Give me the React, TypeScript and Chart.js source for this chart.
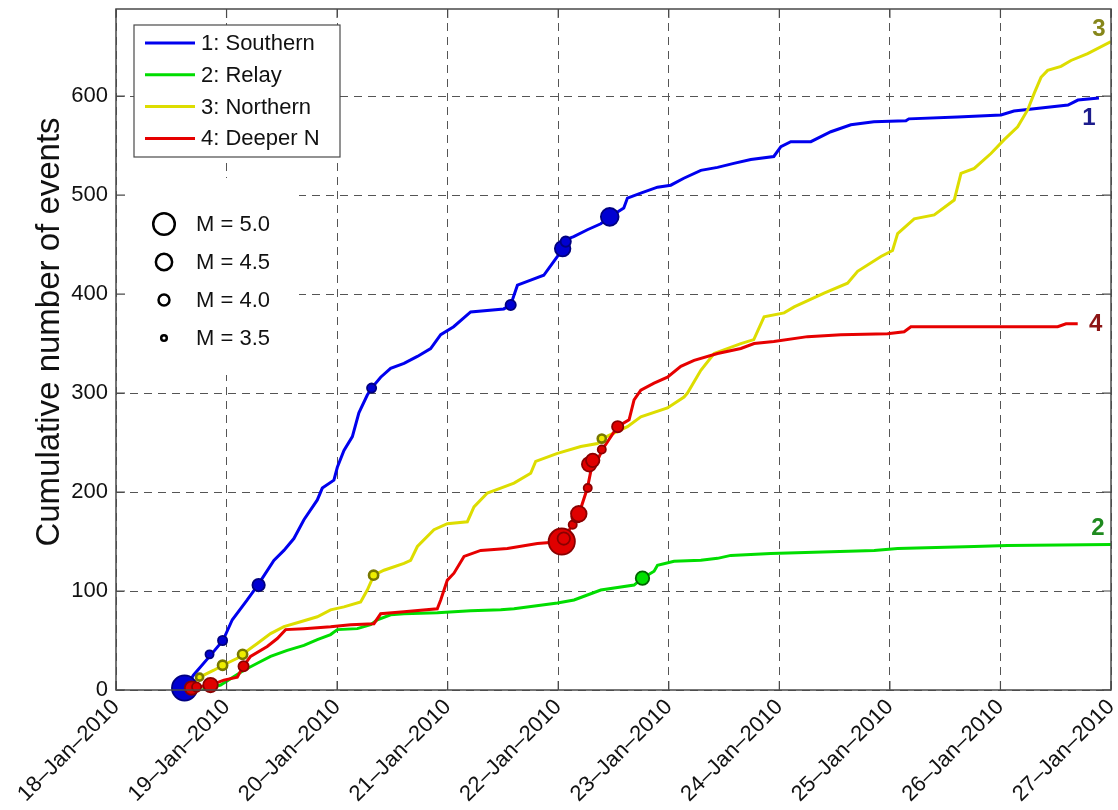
import React, { useEffect, useRef } from "react";
import { Chart, registerables } from "chart.js";

Chart.register(...registerables);

// ---------- data ----------
const xTickLabels = [
  "18–Jan–2010", "19–Jan–2010", "20–Jan–2010", "21–Jan–2010", "22–Jan–2010",
  "23–Jan–2010", "24–Jan–2010", "25–Jan–2010", "26–Jan–2010", "27–Jan–2010",
];
const yTickValues = [0, 100, 200, 300, 400, 500, 600];
const yAxisMax = 688;
const seriesNames = ["1: Southern", "2: Relay", "3: Northern", "4: Deeper N"];
const seriesTags = ["1", "2", "3", "4"];
const legendMagnitudes = [5.0, 4.5, 4.0, 3.5];

// [days since 18-Jan-2010 00:00, cumulative count]
const southern: [number, number][] = [
  [0.62, 0], [0.70, 15], [0.862, 36], [0.967, 50], [1.052, 71], [1.187, 91], [1.283, 106],
  [1.428, 131], [1.519, 141], [1.609, 153], [1.700, 172], [1.821, 192], [1.866, 204],
  [1.971, 212], [2.002, 225], [2.062, 242], [2.138, 256], [2.197, 280], [2.273, 298],
  [2.312, 305], [2.394, 316], [2.484, 325], [2.605, 330], [2.726, 337], [2.846, 345],
  [2.937, 359], [3.054, 367], [3.208, 382], [3.507, 385], [3.570, 389], [3.631, 409],
  [3.751, 414], [3.869, 419], [3.993, 438], [4.038, 446], [4.068, 455], [4.140, 458],
  [4.264, 465], [4.385, 471], [4.466, 478], [4.593, 487], [4.626, 497], [4.747, 502],
  [4.898, 508], [5.018, 510], [5.136, 517], [5.290, 525], [5.441, 528], [5.588, 532],
  [5.742, 536], [5.950, 539], [6.014, 549], [6.104, 554], [6.285, 554], [6.466, 564],
  [6.647, 571], [6.855, 574], [7.145, 575], [7.172, 577], [7.613, 579], [8.005, 581],
  [8.122, 585], [8.367, 588], [8.611, 591], [8.701, 596], [8.891, 598],
];
const relay: [number, number][] = [
  [0.78, 0], [0.946, 5], [1.157, 20], [1.278, 27], [1.398, 34], [1.549, 40], [1.700, 45],
  [1.821, 51], [1.941, 56], [2.002, 61], [2.183, 62], [2.303, 66], [2.364, 71], [2.484, 76],
  [2.605, 77], [2.907, 78], [3.208, 80], [3.480, 81], [3.600, 82], [3.993, 88], [4.143, 91],
  [4.264, 96], [4.385, 101], [4.686, 106], [4.762, 113], [4.867, 120], [4.898, 126],
  [5.048, 130], [5.290, 131], [5.441, 133], [5.561, 136], [5.923, 138], [6.858, 141],
  [7.070, 143], [7.763, 145], [8.065, 146], [9.0, 147],
];
const northern: [number, number][] = [
  [0.66, 0], [0.674, 5], [0.758, 13], [0.885, 20], [0.967, 25], [1.097, 32], [1.142, 36],
  [1.278, 47], [1.398, 57], [1.519, 64], [1.670, 69], [1.821, 74], [1.941, 81], [2.062, 84],
  [2.213, 89], [2.273, 101], [2.333, 116], [2.424, 121], [2.605, 128], [2.665, 131],
  [2.726, 145], [2.876, 162], [2.997, 168], [3.178, 170], [3.238, 185], [3.359, 199],
  [3.480, 204], [3.600, 209], [3.751, 219], [3.796, 231], [3.993, 239], [4.204, 246],
  [4.355, 249], [4.400, 254], [4.626, 266], [4.747, 276], [4.988, 285], [5.138, 296],
  [5.169, 300], [5.290, 323], [5.410, 340], [5.652, 350], [5.769, 354], [5.862, 377],
  [6.043, 381], [6.134, 387], [6.405, 401], [6.617, 411], [6.708, 423], [6.919, 438],
  [7.024, 444], [7.070, 461], [7.220, 476], [7.401, 480], [7.582, 495], [7.643, 522],
  [7.763, 527], [7.914, 542], [8.034, 556], [8.156, 569], [8.246, 586], [8.306, 603],
  [8.367, 619], [8.427, 626], [8.548, 630], [8.638, 636], [8.789, 643], [9.0, 655],
];
const deeperN: [number, number][] = [
  [0.66, 0], [0.683, 2], [0.855, 5], [0.976, 10], [1.097, 13], [1.151, 24], [1.217, 34],
  [1.368, 44], [1.459, 52], [1.534, 61], [1.700, 62], [1.941, 64], [2.122, 66], [2.333, 67],
  [2.394, 77], [2.605, 79], [2.906, 82], [2.937, 91], [2.997, 111], [3.057, 118],
  [3.148, 135], [3.299, 141], [3.540, 143], [3.812, 148], [4.038, 150], [4.128, 167],
  [4.188, 178], [4.264, 204], [4.309, 229], [4.355, 232], [4.400, 243], [4.536, 266],
  [4.641, 273], [4.686, 293], [4.747, 303], [4.867, 310], [4.988, 316], [5.109, 327],
  [5.229, 333], [5.441, 340], [5.652, 345], [5.772, 350], [5.950, 352], [6.255, 357],
  [6.557, 359], [6.979, 360], [7.129, 362], [7.190, 367], [8.518, 367], [8.593, 370],
  [8.699, 370],
];

// large events: [day, cumulative count, magnitude]
const southernQuakes: [number, number, number][] = [
  [0.62, 2, 5.3], [0.846, 36, 3.7], [0.964, 50, 3.8], [1.29, 106, 4.1], [2.312, 305, 3.8],
  [3.57, 389, 3.9], [4.04, 446, 4.4], [4.068, 453, 3.9], [4.466, 478, 4.6],
];
const relayQuakes: [number, number, number][] = [[4.762, 113, 4.2]];
const northernQuakes: [number, number, number][] = [
  [0.756, 13, 3.6], [0.964, 25, 3.8], [1.145, 36, 3.8], [2.33, 116, 3.8], [4.394, 254, 3.7],
];
const deeperNQuakes: [number, number, number][] = [
  [0.683, 2, 4.2], [0.729, 3, 3.8], [0.855, 5, 4.3], [1.154, 24, 3.9], [4.032, 150, 5.4],
  [4.05, 153, 4.1], [4.131, 167, 3.7], [4.17, 175, 4.0], [4.186, 178, 4.4], [4.267, 204, 3.7],
  [4.28, 228, 4.3], [4.312, 232, 4.2], [4.394, 243, 3.7], [4.538, 266, 4.0],
];

// ---------- styles ----------
const FONT = '"Liberation Sans", Arial, Helvetica, sans-serif';
const lineColors = ["#0000ee", "#00dd00", "#dddd00", "#e60000"];
const tagColors = ["#1c1c8c", "#1f8a1f", "#86861a", "#8c1515"];
const markerFill = ["#0000d2", "#00e000", "#eeee00", "#e00000"];
const markerEdge = ["#000080", "#006400", "#787800", "#8a0000"];

const magRadius = (m: number) => 4 + ((m - 3.5) * 16) / 3;

const overlayPlugin = {
  id: "overlay",
  beforeDatasetsDraw(chart: any) {
    const { ctx, chartArea: a } = chart;
    ctx.save();
    ctx.fillStyle = "#ffffff";
    ctx.fillRect(a.left + 1, 178, 298 - a.left, 197);
    ctx.restore();
  },
  afterDatasetsDraw(chart: any) {
    const { ctx, chartArea: a, scales } = chart;
    const xs = scales.x;
    const ys = scales.y;
    ctx.save();
    // frame
    ctx.strokeStyle = "#4a4a4a";
    ctx.lineWidth = 1.5;
    ctx.strokeRect(a.left, a.top, a.right - a.left, a.bottom - a.top);
    // inner ticks
    ctx.lineWidth = 1.2;
    ctx.beginPath();
    xTickLabels.forEach((_, i) => {
      const px = xs.getPixelForValue(i);
      ctx.moveTo(px, a.bottom);
      ctx.lineTo(px, a.bottom - 9);
      ctx.moveTo(px, a.top);
      ctx.lineTo(px, a.top + 9);
    });
    yTickValues.forEach((v) => {
      const py = ys.getPixelForValue(v);
      ctx.moveTo(a.left, py);
      ctx.lineTo(a.left + 9, py);
      ctx.moveTo(a.right, py);
      ctx.lineTo(a.right - 9, py);
    });
    ctx.stroke();

    // y title
    ctx.save();
    ctx.translate(50, 332);
    ctx.rotate(-Math.PI / 2);
    ctx.fillStyle = "#111";
    ctx.font = `33px ${FONT}`;
    ctx.textAlign = "center";
    ctx.textBaseline = "middle";
    ctx.fillText("Cumulative number of events", 0, 0);
    ctx.restore();

    // series legend box
    ctx.fillStyle = "#ffffff";
    ctx.fillRect(134, 25, 206, 132);
    ctx.strokeStyle = "#4a4a4a";
    ctx.lineWidth = 1.2;
    ctx.strokeRect(134, 25, 206, 132);
    ctx.font = `22px ${FONT}`;
    ctx.textAlign = "left";
    ctx.textBaseline = "middle";
    seriesNames.forEach((name, i) => {
      const y = 43 + i * 31.8;
      ctx.strokeStyle = lineColors[i];
      ctx.lineWidth = 3;
      ctx.beginPath();
      ctx.moveTo(145, y);
      ctx.lineTo(195, y);
      ctx.stroke();
      ctx.fillStyle = "#111";
      ctx.fillText(name, 201, y + 1);
    });

    // magnitude legend
    legendMagnitudes.forEach((m, i) => {
      const y = 224 + i * 38;
      ctx.strokeStyle = "#000";
      ctx.lineWidth = 2.5;
      ctx.beginPath();
      ctx.arc(164, y, magRadius(m) - 1.2, 0, Math.PI * 2);
      ctx.stroke();
      ctx.fillStyle = "#111";
      ctx.fillText(`M = ${m.toFixed(1)}`, 196, y + 1);
    });

    // series end tags
    const ends = [southern, relay, northern, deeperN].map((s) => s[s.length - 1]);
    const offsets = [[-10, 20], [-13, -16], [-12, -12], [18, 1]];
    ctx.font = `bold 24px ${FONT}`;
    ctx.textAlign = "center";
    ends.forEach((p, i) => {
      const px = xs.getPixelForValue(p[0]) + offsets[i][0];
      const py = ys.getPixelForValue(p[1]) + offsets[i][1];
      ctx.fillStyle = tagColors[i];
      ctx.fillText(seriesTags[i], px, py);
    });
    ctx.restore();
  },
};

export default function App() {
  const ref = useRef<HTMLCanvasElement | null>(null);

  useEffect(() => {
    if (!ref.current) return;
    const toXY = (s: [number, number][]) => s.map(([x, y]) => ({ x, y }));
    const toQ = (s: [number, number, number][]) => s.map(([x, y]) => ({ x, y }));
    const lines = [southern, relay, northern, deeperN];
    const quakes = [southernQuakes, relayQuakes, northernQuakes, deeperNQuakes];
    const lineOrder = [40, 30, 20, 10];

    const datasets: any[] = [];
    lines.forEach((s, i) => {
      datasets.push({
        label: seriesNames[i],
        data: toXY(s),
        borderColor: lineColors[i],
        borderWidth: 3,
        pointRadius: 0,
        tension: 0,
        fill: false,
        order: lineOrder[i],
      });
    });
    quakes.forEach((q, i) => {
      datasets.push({
        label: seriesNames[i] + " events",
        data: toQ(q),
        showLine: false,
        pointRadius: q.map((e) => magRadius(e[2]) - 1),
        pointBackgroundColor: markerFill[i],
        pointBorderColor: markerEdge[i],
        pointBorderWidth: i === 2 ? 2.6 : 1.8,
        clip: false,
        order: 5 - i,
      });
    });

    const chart = new Chart(ref.current, {
      type: "line",
      data: { datasets },
      options: {
        animation: false,
        responsive: false,
        events: [],
        layout: { autoPadding: false, padding: { left: 0, top: 9, right: 7, bottom: 0 } },
        plugins: { legend: { display: false }, tooltip: { enabled: false } },
        scales: {
          x: {
            type: "linear",
            min: 0,
            max: 9,
            afterBuildTicks: (scale: any) => {
              scale.ticks = xTickLabels.map((_, i) => ({ value: i }));
            },
            afterFit: (scale: any) => {
              scale.height = 120;
              scale.paddingLeft = 0;
              scale.paddingRight = 0;
            },
            ticks: {
              autoSkip: false,
              maxRotation: 45,
              minRotation: 45,
              padding: 12,
              color: "#111",
              font: { family: FONT, size: 22, lineHeight: 0.2 },
              callback: (_v: any, i: number) => xTickLabels[i],
            },
            grid: { color: "#555555", lineWidth: 1, drawTicks: false },
            border: { display: false, dash: [8, 6] },
          },
          y: {
            type: "linear",
            min: 0,
            max: yAxisMax,
            afterBuildTicks: (scale: any) => {
              scale.ticks = yTickValues.map((v) => ({ value: v }));
            },
            afterFit: (scale: any) => {
              scale.width = 116;
              scale.paddingTop = 0;
              scale.paddingBottom = 0;
            },
            ticks: {
              padding: 8,
              color: "#111",
              font: { family: FONT, size: 22, lineHeight: 0.05 },
              callback: (v: any) => String(v),
            },
            grid: { color: "#555555", lineWidth: 1, drawTicks: false },
            border: { display: false, dash: [8, 6] },
          },
        },
      },
      plugins: [overlayPlugin],
    });
    return () => chart.destroy();
  }, []);

  return (
    <div style={{ position: "fixed", left: 0, top: 0, width: 1118, height: 810, background: "#fff" }}>
      <canvas ref={ref} width={1118} height={810} style={{ width: 1118, height: 810 }} />
    </div>
  );
}
